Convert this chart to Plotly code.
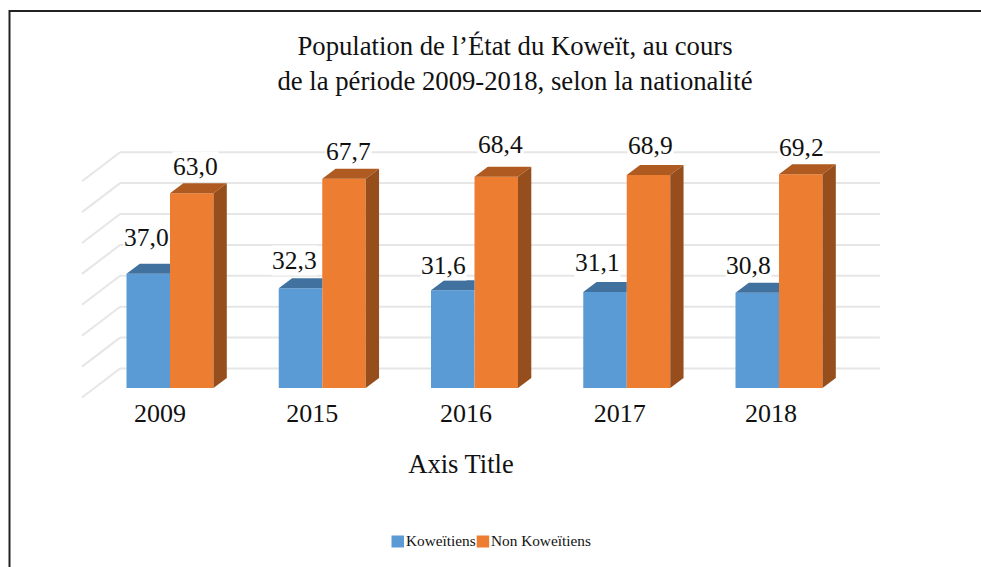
import plotly.graph_objects as go

# ---- data ----
years = ["2009", "2015", "2016", "2017", "2018"]
koweitiens = [37.0, 32.3, 31.6, 31.1, 30.8]
non_koweitiens = [63.0, 67.7, 68.4, 68.9, 69.2]
grid_values = [0, 10, 20, 30, 40, 50, 60, 70]

# ---- layout constants ----
W, H = 981, 567
PLOT_W = 922           # plot area width: the axis title is centred at x = 461
AXIS_PX = 401          # pixel row of the bottom of the plot area
ZERO_PX = 388          # pixel row of the bars' base
PX_PER_UNIT = 3.09
X0_PX, PX_PER_CAT = 170, 152.25
BAR_W = 0.2857
DEPTH_X, DEPTH_Y = 13.3 / PX_PER_CAT, 10 / PX_PER_UNIT
WALL_LIFT = 6.31
WALL_L, WALL_R, SIDE_X, SIDE_Y = -0.328, 4.663, 0.25, 9.39
SERIF = "Liberation Serif"
TXT = "#111111"

BLUE, BLUE_TOP = "#5B9BD5", "#41729F"
ORANGE, ORANGE_TOP, ORANGE_SIDE = "#ED7D31", "#AE5A21", "#964F1C"
GRID = "#E6E6E6"

positions = list(range(len(years)))
tick_nudge = [-0.066, -0.066, -0.056, -0.046, -0.053]
blue_shift = [(-2, 36), (-6.5, 28), (-9, 25), (-8, 29), (-9, 27)]
orange_shift = [(4, 27), (4, 27), (4, 32), (1.5, 30), (1, 27)]


def px(v):
    return v / PLOT_W


def py(v):
    return 1 - v / AXIS_PX


def polygons(faces):
    xs, ys = [], []
    for f in faces:
        xs += [p[0] for p in f] + [f[0][0], None]
        ys += [p[1] for p in f] + [f[0][1], None]
    return xs, ys


def face_trace(faces, color):
    xs, ys = polygons(faces)
    return go.Scatter(x=xs, y=ys, mode="lines", fill="toself", fillcolor=color,
                      line=dict(width=0, color=color), hoverinfo="skip", showlegend=False)


fig = go.Figure()
fig.add_bar(x=positions, y=koweitiens, name="Koweïtiens", width=BAR_W, offset=-BAR_W,
            marker=dict(color=BLUE, line_width=0), showlegend=False)
fig.add_bar(x=positions, y=non_koweitiens, name="Non Koweïtiens", width=BAR_W, offset=0,
            marker=dict(color=ORANGE, line_width=0), showlegend=False)

blue_tops = [[(c - BAR_W, v), (c - BAR_W + DEPTH_X, v + DEPTH_Y), (c, v + DEPTH_Y), (c, v)]
             for c, v in zip(positions, koweitiens)]
orange_tops = [[(c, v), (c + DEPTH_X, v + DEPTH_Y), (c + BAR_W + DEPTH_X, v + DEPTH_Y), (c + BAR_W, v)]
               for c, v in zip(positions, non_koweitiens)]
orange_sides = [[(c + BAR_W, 0), (c + BAR_W + DEPTH_X, DEPTH_Y), (c + BAR_W + DEPTH_X, v + DEPTH_Y), (c + BAR_W, v)]
                for c, v in zip(positions, non_koweitiens)]
fig.add_trace(face_trace(blue_tops, BLUE_TOP))
fig.add_trace(face_trace(orange_tops, ORANGE_TOP))
fig.add_trace(face_trace(orange_sides, ORANGE_SIDE))

shapes = []
for g in grid_values:
    y = g + WALL_LIFT
    line = dict(color=GRID, width=2)
    shapes.append(dict(type="line", xref="x", yref="y", layer="below", x0=WALL_L, x1=WALL_R, y0=y, y1=y, line=line))
    shapes.append(dict(type="line", xref="x", yref="y", layer="below", x0=WALL_L - SIDE_X, x1=WALL_L,
                       y0=y - SIDE_Y, y1=y, line=line))

# outer frame (top and left only are visible in the picture)
frame = dict(color="#222222", width=2)
shapes.append(dict(type="line", xref="paper", yref="paper", x0=px(9), x1=px(W), y0=py(11), y1=py(11), line=frame))
shapes.append(dict(type="line", xref="paper", yref="paper", x0=px(9.5), x1=px(9.5), y0=py(10), y1=py(H), line=frame))

# legend
for left, color in ((391.5, BLUE), (476.7, ORANGE)):
    shapes.append(dict(type="rect", xref="paper", yref="paper", x0=px(left), x1=px(left + 12.5),
                       y0=py(535.5), y1=py(547.5), fillcolor=color, line_width=0))

annotations = []
for series, shifts, off in ((koweitiens, blue_shift, -BAR_W / 2), (non_koweitiens, orange_shift, BAR_W / 2)):
    for c, v, (dx, dy) in zip(positions, series, shifts):
        annotations.append(dict(x=c + off, y=v, xref="x", yref="y", xshift=dx, yshift=dy,
                                text=f"{v:.1f}".replace(".", ","), showarrow=False, bgcolor="white",
                                xanchor="center", yanchor="middle", borderpad=0,
                                font=dict(family=SERIF, size=25.5, color=TXT)))
for left, name in ((405, "Koweïtiens"), (489.5, "Non Koweïtiens")):
    annotations.append(dict(x=px(left), y=py(540), xref="paper", yref="paper", text=name, showarrow=False,
                            xanchor="left", yanchor="middle", borderpad=0,
                            font=dict(family=SERIF, size=15.3, color=TXT)))

fig.update_layout(
    width=W, height=H, autosize=False, barmode="overlay",
    margin=dict(l=0, r=W - PLOT_W, t=0, b=H - AXIS_PX, pad=0),
    paper_bgcolor="white", plot_bgcolor="white", showlegend=False,
    shapes=shapes, annotations=annotations,
    title=dict(text="Population de l’État du Koweït, au cours<br>de la période 2009-2018, selon la nationalité",
               x=515 / W, xanchor="center", y=1 - 55 / H, yref="container", yanchor="top",
               font=dict(family=SERIF, size=26.7, color=TXT)),
    xaxis=dict(range=[-X0_PX / PX_PER_CAT, (PLOT_W - X0_PX) / PX_PER_CAT], showgrid=False, zeroline=False,
               showline=False, ticks="", automargin=False, ticklabelstandoff=-6,
               tickmode="array", tickvals=[c + n for c, n in zip(positions, tick_nudge)], ticktext=years,
               tickfont=dict(family=SERIF, size=26, color=TXT),
               title=dict(text="Axis Title", standoff=27, font=dict(family=SERIF, size=26.5, color=TXT))),
    yaxis=dict(range=[(ZERO_PX - AXIS_PX) / PX_PER_UNIT, ZERO_PX / PX_PER_UNIT], visible=False, fixedrange=True),
)

fig.write_html("out.html", post_script="document.body.style.margin='0';", config={"displayModeBar": False})
